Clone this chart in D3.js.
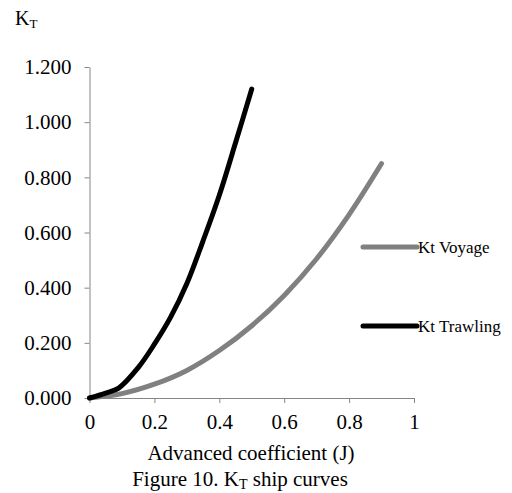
<!DOCTYPE html>
<html>
<head>
<meta charset="utf-8">
<script src="https://cdn.jsdelivr.net/npm/d3@7"></script>
<style>
  body { margin: 0; background: #fff; }
</style>
</head>
<body>
<div id="chart"></div>
<script>
// values
const voyageJ = [0, 0.1, 0.2, 0.3, 0.4, 0.5, 0.6, 0.7, 0.8, 0.9];
const voyageKt = [0, 0.016, 0.05, 0.1, 0.172, 0.262, 0.372, 0.505, 0.665, 0.85];
const trawlJ = [0, 0.05, 0.09, 0.15, 0.2, 0.25, 0.3, 0.35, 0.4, 0.45, 0.5];
const trawlKt = [0, 0.018, 0.036, 0.11, 0.195, 0.293, 0.415, 0.57, 0.735, 0.925, 1.12];
const xTicks = [0, 0.2, 0.4, 0.6, 0.8, 1];
const yTicks = [0, 0.2, 0.4, 0.6, 0.8, 1.0, 1.2];
const seriesNames = ['Kt Voyage', 'Kt Trawling'];
const seriesColors = ['#808080', '#000000'];

const w = 512;
const h = 493;
const serif = 'Liberation Serif, Times New Roman, serif';

const svg = d3.select('#chart')
    .append('svg')
    .attr('width', w)
    .attr('height', h);

const x = d3.scaleLinear().domain([0, 1]).range([89.5, 414]);
const y = d3.scaleLinear().domain([0, 1.2]).range([398, 67]);

// y axis
const yAxis = svg.append('g')
    .attr('transform', 'translate(89.5,0)')
    .call(d3.axisLeft(y).tickValues(yTicks).tickFormat(d3.format('.3f')).tickSize(5).tickSizeOuter(0).tickPadding(13));
yAxis.select('.domain').attr('stroke', '#868686');
yAxis.selectAll('.tick line').attr('stroke', '#868686');
yAxis.selectAll('.tick text')
    .style('font-family', serif)
    .attr('font-size', 21)
    .attr('fill', '#000');

// x axis
const xAxis = svg.append('g')
    .attr('transform', 'translate(0,398)')
    .call(d3.axisBottom(x).tickValues(xTicks).tickFormat(d3.format('')).tickSize(5).tickSizeOuter(0).tickPadding(11));
xAxis.select('.domain').attr('stroke', '#868686');
xAxis.selectAll('.tick line').attr('stroke', '#868686');
xAxis.selectAll('.tick text')
    .style('font-family', serif)
    .attr('font-size', 21)
    .attr('fill', '#000');

// lines
const line = d3.line()
    .x(d => x(d[0]))
    .y(d => y(d[1]))
    .curve(d3.curveCatmullRom);

const series = [
    d3.zip(voyageJ, voyageKt),
    d3.zip(trawlJ, trawlKt)
];

svg.selectAll('path.series')
    .data(series)
    .enter()
    .append('path')
    .attr('class', 'series')
    .attr('d', line)
    .attr('fill', 'none')
    .attr('stroke', (d, i) => seriesColors[i])
    .attr('stroke-width', 5)
    .attr('stroke-linecap', 'round')
    .attr('stroke-linejoin', 'round');

// legend
const legendY = [247, 326];
const legend = svg.selectAll('g.legend')
    .data(seriesNames)
    .enter()
    .append('g')
    .attr('class', 'legend')
    .attr('transform', (d, i) => 'translate(363,' + legendY[i] + ')');
legend.append('line')
    .attr('x1', 0).attr('x2', 54)
    .attr('stroke', (d, i) => seriesColors[i])
    .attr('stroke-width', 5)
    .attr('stroke-linecap', 'round');
legend.append('text')
    .attr('x', 55)
    .attr('y', 5.5)
    .style('font-family', serif)
    .attr('font-size', 17)
    .text(d => d);

// y title K_T
const yTitle = svg.append('text')
    .attr('x', 15)
    .attr('y', 25)
    .style('font-family', serif)
    .attr('font-size', 20);
yTitle.append('tspan').text('K');
yTitle.append('tspan').attr('font-size', 13).attr('dy', 3).text('T');

// x title
svg.append('text')
    .attr('x', 251)
    .attr('y', 460)
    .attr('text-anchor', 'middle')
    .style('font-family', serif)
    .attr('font-size', 21)
    .text('Advanced coefficient (J)');

// caption
const cap = svg.append('text')
    .attr('x', 240)
    .attr('y', 486)
    .attr('text-anchor', 'middle')
    .style('font-family', serif)
    .attr('font-size', 21);
cap.append('tspan').text('Figure 10. K');
cap.append('tspan').attr('font-size', 14).attr('dy', 3).text('T');
cap.append('tspan').attr('dy', -3).text(' ship curves');
</script>
</body>
</html>
